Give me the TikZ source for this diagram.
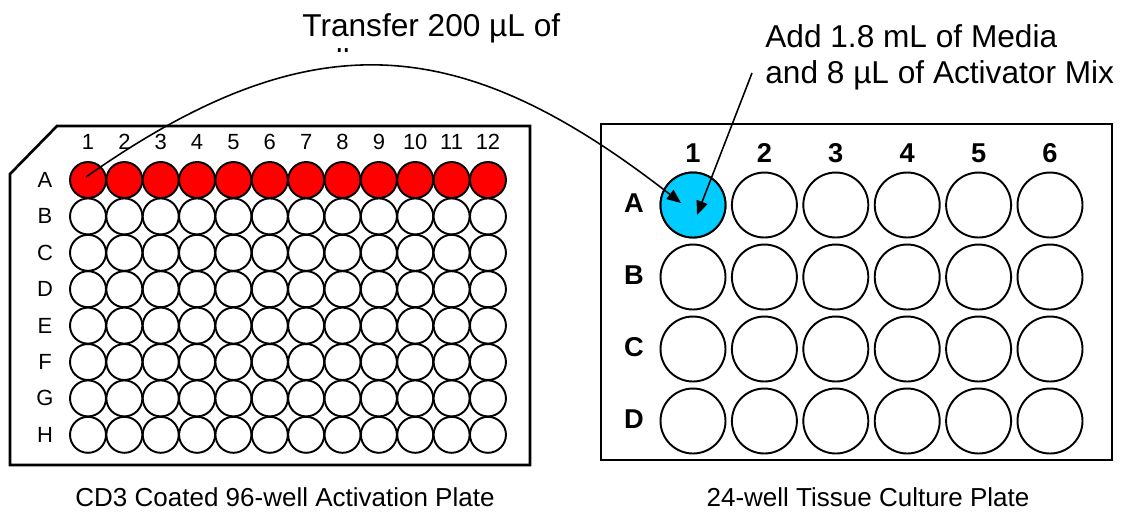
\documentclass[tikz,border=0pt]{standalone}
\usepackage{fontspec}
\setmainfont{Liberation Sans}
\usetikzlibrary{arrows.meta}
\definecolor{wellred}{HTML}{FF0000}
\definecolor{wellcyan}{HTML}{00CCFF}
\begin{document}
\begin{tikzpicture}[x=0.02cm,y=-0.02cm,
  plate/.style={line width=1.5pt},
  swell/.style={circle,draw,line width=1.1pt,minimum size=0.72cm,inner sep=0pt},
  bwell/.style={circle,draw,line width=1.1pt,minimum size=1.3cm,inner sep=0pt},
  slabel/.style={font=\fontsize{12.5}{15}\selectfont,inner sep=0pt},
  blabel/.style={font=\fontsize{15.5}{18}\selectfont\bfseries,inner sep=0pt},
  big/.style={font=\fontsize{18}{22}\selectfont,inner sep=0pt,anchor=base west},
  caption/.style={font=\fontsize{14.8}{18}\selectfont,inner sep=0pt},
  arr/.style={line width=0.9pt,-{Triangle[length=8pt,width=6.5pt]}}]

\useasboundingbox (0,0) rectangle (1125,512);

% ---------- left plate (96-well) ----------
\draw[plate] (57,126) -- (530,126) -- (530,465) -- (10,465) -- (10,174) -- cycle;
\foreach \c in {1,...,12}{
  \node[slabel] (LC\c) at ({88+36.36*(\c-1)},142) {\c};
}
\foreach \r [count=\i from 0] in {A,...,H}{
  \node[slabel] (LR\r) at (45,{180+36.4*\i}) {\r};
}
\foreach \c in {1,...,12}{
  \node[swell,fill=wellred] (LA\c) at ({88+36.36*(\c-1)},180) {};
}
\foreach \r [count=\i from 1] in {B,...,H}{
  \foreach \c in {1,...,12}{
    \node[swell,fill=white] (L\r\c) at ({88+36.36*(\c-1)},{180+36.4*\i}) {};
  }
}
\node[caption] (cap1) at (285,497) {CD3 Coated 96-well Activation Plate};

% ---------- right plate (24-well) ----------
\draw[plate] (601,124) rectangle (1112,460);
\foreach \c in {1,...,6}{
  \node[blabel] (RC\c) at ({693+71.4*(\c-1)},153) {\c};
}
\foreach \r [count=\i from 0] in {A,...,D}{
  \node[blabel] (RR\r) at (634,{203+72*\i}) {\r};
  \foreach \c in {1,...,6}{
    \node[bwell,fill=white] (R\r\c) at ({693+71.4*(\c-1)},{205+72*\i}) {};
  }
}
\node[bwell,fill=wellcyan] (RA1) at (693,205) {};
\node[caption] (cap2) at (868,497) {24-well Tissue Culture Plate};

% ---------- texts ----------
\node[big] (t1) at (302,36) {Transfer 200 µL of};
\begin{scope}
  \clip (250,0) rectangle (620,51);
  \node[big] (t1b) at (302,71.5) {cells};
\end{scope}
\node[big] (t2) at (765,47) {Add 1.8 mL of Media};
\node[big] (t3) at (765,83) {and 8 µL of Activator Mix};

% ---------- arrows ----------
\coordinate (s1) at (86,177);
\coordinate (e1) at (681,203);
\draw[arr] (s1) .. controls (315,16) and (464,34) .. (e1);
\coordinate (s2) at (752,73);
\coordinate (e2) at (697,215);
\draw[arr] (s2) -- (e2);
\end{tikzpicture}
\end{document}
